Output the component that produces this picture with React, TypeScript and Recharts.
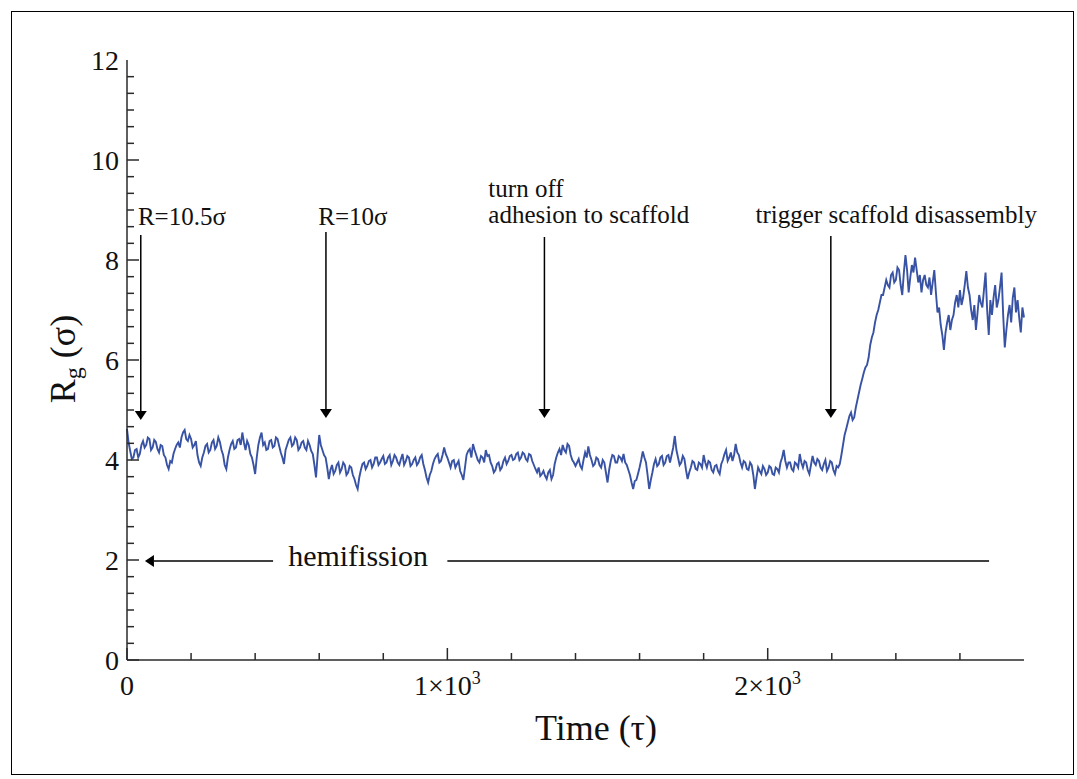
import React from 'react';
import { LineChart, Line, XAxis, YAxis, ReferenceLine, ReferenceDot } from 'recharts';

// Time step between samples (tau)
const timeStep = 10;

// Rg (sigma) samples at t = 0, 10, 20, ... 2800
const rgValues: number[] = [
  4.62, 4.18, 4.05, 4.22, 4.12, 4.38, 4.3, 4.42, 4.25, 4.36,
  4.15, 4.28, 4.05, 3.82, 3.95, 4.22, 4.35, 4.45, 4.6, 4.38,
  4.42, 4.3, 4.1, 3.88, 4.15, 4.32, 4.2, 4.4, 4.28, 4.36,
  4.1, 3.82, 4.2, 4.38, 4.25, 4.42, 4.55, 4.2, 4.3, 4.05,
  3.72, 4.3, 4.55, 4.35, 4.22, 4.4, 4.28, 4.42, 4.15, 3.92,
  4.3, 4.45, 4.32, 4.4, 4.25, 4.38, 4.2, 4.3, 4.12, 3.65,
  4.5, 4.2, 4.05, 3.62, 3.9, 3.78, 3.95, 3.82, 3.9, 3.75,
  3.85, 3.62, 3.42, 3.8, 3.95, 3.88, 4.0, 3.92, 4.05, 3.95,
  4.08, 3.95, 4.1, 3.98, 4.05, 3.9, 4.12, 3.97, 4.05, 3.92,
  4.05, 3.95, 4.1, 3.8, 3.55, 3.78, 4.02, 4.12, 3.98, 4.25,
  4.05, 3.85, 4.0, 3.92, 3.78, 3.6, 4.1, 4.22, 4.32, 4.1,
  3.95, 4.05, 4.2, 4.1, 3.88, 3.8, 3.95, 3.85, 4.05, 3.98,
  4.1, 4.02, 4.15, 4.05, 4.12, 3.98, 4.1, 3.9, 3.75, 3.68,
  3.78, 3.62, 3.8, 3.7, 4.05, 4.22, 4.3, 4.15, 4.28, 4.0,
  3.88, 4.02, 3.82, 4.15, 4.27, 4.0, 3.92, 4.02, 3.85, 3.95,
  3.55, 3.98, 4.08, 3.95, 4.05, 4.12, 3.9, 3.7, 3.42, 3.6,
  3.85, 4.17, 3.95, 3.42, 3.75, 4.02, 3.92, 4.08, 3.95, 4.1,
  4.1, 4.48, 4.05, 3.95, 4.02, 3.62, 3.85, 3.95, 3.8, 3.92,
  4.1, 3.85, 3.95, 3.75, 3.9, 3.72, 4.0, 4.2, 4.05, 3.98,
  4.32, 4.1, 3.85, 3.95, 3.8, 3.9, 3.42, 3.85, 3.72, 3.82,
  3.75, 3.85, 3.7, 3.82, 3.95, 4.2, 3.85, 3.95, 3.78, 3.92,
  4.12, 3.85, 3.95, 3.72, 4.08, 3.9, 3.98, 3.8, 4.0, 3.85,
  3.95, 3.72, 3.85, 4.1, 4.5, 4.75, 4.95, 4.85, 5.2, 5.5,
  5.75, 5.9, 6.3, 6.55, 6.9, 7.15, 7.3, 7.6, 7.45, 7.75,
  7.6, 7.8, 7.3, 8.1, 7.35, 7.9, 8.05, 7.55, 7.35, 7.7,
  7.45, 7.3, 7.8, 6.95, 6.7, 6.2, 6.75, 6.6, 6.9, 7.3,
  7.4, 7.25, 7.78, 7.3, 6.8, 6.6, 7.3, 7.05, 7.75, 6.5,
  6.9, 7.5, 7.2, 7.75, 6.25, 6.9, 6.75, 7.45, 7.2, 6.55,
  6.85,
];

// Rg (sigma) samples read between the above, at t = 5, 15, 25, ... 2795
const rgMidValues: number[] = [
  4.35, 4.02, 4.2, 4.05, 4.3, 4.25, 4.45, 4.2, 4.4, 4.22,
  4.3, 4.1, 3.9, 3.98, 4.12, 4.3, 4.25, 4.55, 4.42, 4.5,
  4.25, 4.38, 3.95, 4.05, 4.28, 4.15, 4.35, 4.22, 4.45, 4.2,
  3.9, 4.05, 4.32, 4.22, 4.4, 4.3, 4.35, 4.38, 4.12, 3.9,
  4.05, 4.45, 4.3, 4.2, 4.38, 4.25, 4.45, 4.28, 4.05, 4.2,
  4.4, 4.28, 4.45, 4.2, 4.35, 4.25, 4.38, 4.18, 3.9, 4.1,
  4.3, 4.1, 3.85, 3.8, 3.72, 3.9, 3.75, 3.95, 3.7, 3.88,
  3.7, 3.5, 3.65, 3.92, 3.82, 3.98, 3.85, 4.05, 3.9, 4.02,
  3.92, 4.05, 3.9, 4.1, 3.95, 4.02, 3.9, 4.08, 3.88, 4.0,
  3.9, 4.05, 3.92, 3.65, 3.7, 3.92, 4.08, 3.95, 4.1, 4.12,
  3.95, 3.98, 3.85, 3.98, 3.7, 3.85, 4.18, 4.05, 4.2, 4.0,
  4.08, 3.95, 4.08, 3.95, 3.75, 3.92, 3.8, 3.98, 3.92, 4.08,
  4.0, 4.12, 4.0, 4.15, 4.02, 4.12, 3.98, 3.82, 3.85, 3.72,
  3.68, 3.75, 3.62, 3.92, 4.15, 4.1, 4.2, 4.32, 4.1, 3.95,
  3.95, 3.88, 4.0, 4.05, 4.1, 3.88, 4.05, 3.9, 4.0, 3.75,
  3.8, 4.1, 3.95, 4.08, 3.98, 3.95, 3.8, 3.55, 3.58, 3.72,
  4.0, 4.05, 3.7, 3.6, 3.92, 3.88, 4.05, 3.9, 4.08, 3.95,
  4.25, 4.2, 3.9, 4.08, 3.8, 3.75, 3.98, 3.82, 3.95, 3.85,
  3.95, 3.98, 3.8, 3.88, 3.78, 3.92, 4.12, 3.98, 4.15, 4.1,
  4.15, 3.95, 3.98, 3.82, 3.95, 3.7, 3.65, 3.78, 3.88, 3.7,
  3.88, 3.72, 3.85, 3.75, 4.05, 3.98, 3.95, 3.82, 3.95, 3.85,
  3.95, 3.98, 3.8, 3.9, 3.95, 4.02, 3.85, 3.92, 3.78, 3.98,
  3.8, 3.88, 3.92, 4.3, 4.62, 4.88, 4.8, 5.05, 5.35, 5.62,
  5.85, 6.05, 6.45, 6.75, 7.0, 7.3, 7.45, 7.5, 7.7, 7.55,
  7.85, 7.5, 7.75, 7.8, 7.65, 7.75, 7.8, 7.7, 7.6, 7.5,
  7.65, 7.55, 7.35, 7.05, 6.5, 6.55, 6.9, 6.8, 7.15, 7.05,
  7.1, 7.5, 7.45, 7.0, 7.1, 6.95, 7.15, 7.4, 7.0, 7.2,
  7.25, 7.05, 7.45, 6.9, 6.6, 7.1, 7.25, 6.95, 6.85, 7.05,
];

const data: { t: number; rg: number }[] = [];
rgValues.forEach((v, i) => {
  data.push({ t: i * timeStep, rg: v });
  if (i < rgMidValues.length) data.push({ t: i * timeStep + timeStep / 2, rg: rgMidValues[i] });
});

// Axis ticks
const xTicks = [0, 200, 400, 600, 800, 1000, 1200, 1400, 1600, 1800, 2000, 2200, 2400, 2600];
const xMajorLabels: Record<number, string> = { 0: '0', 1000: '1', 2000: '2' };
const yTicks = Array.from({ length: 37 }, (_, k) => k / 3);
const yMajorLabels = [0, 2, 4, 6, 8, 10, 12];

// Annotation arrows (data coordinates: from -> to)
const arrows = [
  { x1: 43, y1: 8.5, x2: 43, y2: 4.8 },
  { x1: 621, y1: 8.56, x2: 621, y2: 4.84 },
  { x1: 1303, y1: 8.46, x2: 1303, y2: 4.84 },
  { x1: 2197, y1: 8.48, x2: 2197, y2: 4.84 },
  { x1: 456, y1: 1.98, x2: 56, y2: 1.98 },
];
const plainLines = [{ x1: 1000, y1: 1.98, x2: 2691, y2: 1.98 }];

const annotationTexts = [
  { x: 34, y: 8.7, text: 'R=10.5σ', size: 25 },
  { x: 597, y: 8.7, text: 'R=10σ', size: 25 },
  { x: 1128, y: 9.26, text: 'turn off', size: 25 },
  { x: 1128, y: 8.74, text: 'adhesion to scaffold', size: 25 },
  { x: 1962, y: 8.74, text: 'trigger scaffold disassembly', size: 25 },
  { x: 503, y: 1.88, text: 'hemifission', size: 30 },
];

const FONT = "'Liberation Serif', 'Times New Roman', serif";
const AXIS_COLOR = '#2a2a2a';

const XTick = (props: any) => {
  const { x, y, payload } = props;
  const v = payload.value;
  const major = Math.abs(v % 1000) < 1e-6;
  const label = xMajorLabels[v];
  return (
    <g>
      <line x1={x} y1={y} x2={x} y2={y - (major ? 12 : 7)} stroke={AXIS_COLOR} strokeWidth={1.5} />
      {label !== undefined && (
        <text x={x} y={y + 35} textAnchor="middle" fontFamily={FONT} fontSize={28} fill="#111">
          {v === 0 ? (
            '0'
          ) : (
            <>
              {label}×10<tspan dy={-11} fontSize={18}>3</tspan>
            </>
          )}
        </text>
      )}
    </g>
  );
};

const YTick = (props: any) => {
  const { x, y, payload } = props;
  const v = payload.value;
  const major = yMajorLabels.some((m) => Math.abs(m - v) < 1e-6);
  const isTop = Math.abs(v - 12) < 1e-6;
  return (
    <g>
      {!isTop && (
        <line x1={x} y1={y} x2={x + (major ? 12 : 7)} y2={y} stroke={AXIS_COLOR} strokeWidth={1.5} />
      )}
      {major && (
        <text x={x - 8} y={y} textAnchor="end" dominantBaseline="central" fontFamily={FONT} fontSize={28} fill="#111">
          {Math.round(v)}
        </text>
      )}
    </g>
  );
};

const ArrowShape = (p: any) => {
  const { x1, y1, x2, y2 } = p;
  const dx = x2 - x1;
  const dy = y2 - y1;
  const len = Math.sqrt(dx * dx + dy * dy) || 1;
  const ux = dx / len;
  const uy = dy / len;
  const L = 9;
  const W = 6;
  const bx = x2 - ux * L;
  const by = y2 - uy * L;
  const pts = `${x2},${y2} ${bx - uy * W},${by + ux * W} ${bx + uy * W},${by - ux * W}`;
  return (
    <g>
      <line x1={x1} y1={y1} x2={bx} y2={by} stroke="#000" strokeWidth={1.5} />
      <polygon points={pts} fill="#000" />
    </g>
  );
};

const PlainShape = (p: any) => (
  <line x1={p.x1} y1={p.y1} x2={p.x2} y2={p.y2} stroke="#000" strokeWidth={1.5} />
);

export default function App() {
  return (
    <div style={{ position: 'absolute', left: 0, top: 0, width: 1077, height: 779, background: '#fff' }}>
      <div
        style={{
          position: 'absolute',
          left: 11,
          top: 11,
          width: 1061,
          height: 762,
          border: '1.5px solid #000',
        }}
      />
      <div style={{ position: 'absolute', left: 0, top: 0 }}>
        <LineChart
          width={1077}
          height={779}
          data={data}
          margin={{ top: 60, right: 53, bottom: 59, left: 67 }}
        >
          <XAxis
            type="number"
            dataKey="t"
            domain={[0, 2800]}
            ticks={xTicks}
            interval={0}
            tick={<XTick />}
            tickLine={false}
            tickSize={0}
            tickMargin={0}
            height={60}
            axisLine={{ stroke: AXIS_COLOR, strokeWidth: 1.5 }}
          />
          <YAxis
            type="number"
            domain={[0, 12]}
            ticks={yTicks}
            interval={0}
            tick={<YTick />}
            tickLine={false}
            tickSize={0}
            tickMargin={0}
            width={60}
            axisLine={{ stroke: AXIS_COLOR, strokeWidth: 1.5 }}
          />
          <Line
            type="linear"
            dataKey="rg"
            stroke="#3852a4"
            strokeWidth={1.9}
            dot={false}
            isAnimationActive={false}
          />
          {arrows.map((a, i) => (
            <ReferenceLine
              key={'a' + i}
              segment={[
                { x: a.x1, y: a.y1 },
                { x: a.x2, y: a.y2 },
              ]}
              shape={<ArrowShape />}
            />
          ))}
          {plainLines.map((a, i) => (
            <ReferenceLine
              key={'l' + i}
              segment={[
                { x: a.x1, y: a.y1 },
                { x: a.x2, y: a.y2 },
              ]}
              shape={<PlainShape />}
            />
          ))}
          {annotationTexts.map((a, i) => (
            <ReferenceDot
              key={'t' + i}
              x={a.x}
              y={a.y}
              r={0}
              shape={(p: any) => (
                <text x={p.cx} y={p.cy} fontFamily={FONT} fontSize={a.size} fill="#111">
                  {a.text}
                </text>
              )}
            />
          ))}
        </LineChart>
        <svg
          width={1077}
          height={779}
          style={{ position: 'absolute', left: 0, top: 0, pointerEvents: 'none' }}
        >
          <text x={596} y={740} textAnchor="middle" fontFamily={FONT} fontSize={36} fill="#111">
            Time (τ)
          </text>
          <text
            x={75}
            y={359}
            transform="rotate(-90, 75, 359)"
            textAnchor="middle"
            fontFamily={FONT}
            fontSize={36}
            fill="#111"
          >
            R<tspan dy={6} fontSize={24}>g</tspan>
            <tspan dy={-6}> (σ)</tspan>
          </text>
        </svg>
      </div>
    </div>
  );
}
